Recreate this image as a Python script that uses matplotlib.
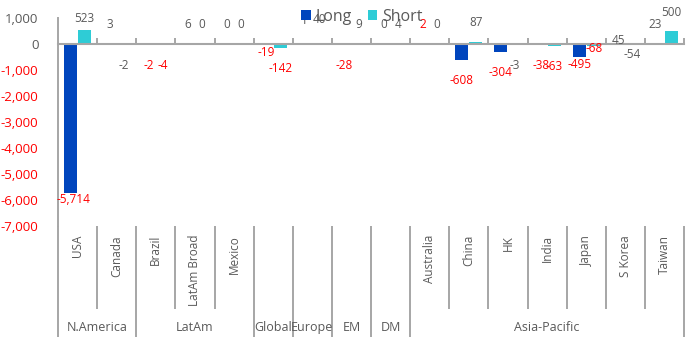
import matplotlib
matplotlib.use("Agg")
import matplotlib.pyplot as plt
import matplotlib.transforms as mtransforms
import numpy as np

plt.rcParams['font.family'] = ['Open Sans', 'DejaVu Sans']

# positions by market, split into long and short books
countries = ["USA", "Canada", "Brazil", "LatAm Broad", "Mexico", "", "", "", "",
             "Australia", "China", "HK", "India", "Japan", "S Korea", "Taiwan"]
regions = ["N.America", "LatAm", "Global", "Europe", "EM", "DM", "Asia-Pacific"]
region_sizes = [2, 3, 1, 1, 1, 1, 7]
long_vals = [-5714, 3, -2, 6, 0, -19, 1, -28, 0, 2, -608, -304, -38, -495, 45, 23]
short_vals = [523, -2, -4, 0, 0, -142, 40, 9, 4, 0, 87, -3, -63, -68, -54, 500]
y_ticks = [1000, 0, -1000, -2000, -3000, -4000, -5000, -6000, -7000]

# which value labels are printed in red
long_red = [True, False, True, False, False, True, False, True, False,
            True, True, True, True, True, False, False]
short_red = [False, False, True, False, False, True, False, False, False,
             False, False, False, True, True, False, False]

LONG_COLOR = "#0045BD"
SHORT_COLOR = "#2ECCD6"
TEXT_GRAY = "#595959"
LINE_GRAY = "#A6A6A6"
RED = "#FF0000"

# hand-moved labels: (dx, distance from bar end) in pixels
label_moves = {
    (0, "long"): (3, 7), (0, "short"): (0, 12),
    (5, "long"): (0, 8),
    (6, "long"): (-1, 23), (6, "short"): (0, 23),
    (12, "long"): (1, 21), (12, "short"): (0, 21),
    (13, "long"): (0, 8), (13, "short"): (1, 3),
    (14, "long"): (0, 2), (14, "short"): (0, 9),
    (15, "long"): (-2, 19),
}

fig = plt.figure(figsize=(6.92, 3.42), dpi=100)
ax = fig.add_axes([58 / 692, 116 / 342, 626 / 692, 208 / 342])

x = np.arange(len(countries))
w = 0.33
off = 0.18
b_long = ax.bar(x - off, long_vals, w, color=LONG_COLOR, label="Long", zorder=2)
b_short = ax.bar(x + off, short_vals, w, color=SHORT_COLOR, label="Short", zorder=2)

ax.set_xlim(-0.5, len(countries) - 0.5)
ax.set_ylim(-7000, 1000)

# value labels
for series, vals, reds, dx0 in [("short", short_vals, short_red, off),
                                ("long", long_vals, long_red, -off)]:
    for i, v in enumerate(vals):
        dx, gap = label_moves.get((i, series), (0, 19 if v >= 0 else 21))
        dy = gap if v >= 0 else -gap
        ax.annotate("{:,}".format(v), xy=(i + dx0, v), xytext=(dx, dy),
                    textcoords="offset pixels", ha="center", va="center",
                    fontsize=8.5, color=RED if reds[i] else TEXT_GRAY, zorder=3)

# y axis
ax.set_yticks(y_ticks)
ax.set_yticklabels(["{:,}".format(t) for t in y_ticks], fontsize=9.5)
for lab, t in zip(ax.get_yticklabels(), y_ticks):
    lab.set_color(RED if t < 0 else TEXT_GRAY)
ax.tick_params(axis="y", length=0, pad=14)

# category axis sits on zero, ticks between categories
for s in ["top", "right"]:
    ax.spines[s].set_visible(False)
ax.spines["bottom"].set_position(("data", 0))
ax.spines["bottom"].set_color(LINE_GRAY)
ax.spines["bottom"].set_linewidth(1.5)
ax.spines["left"].set_color(LINE_GRAY)
ax.spines["left"].set_linewidth(1.4)
ax.set_xticks(np.arange(len(countries)) + 0.5)
ax.set_xticklabels([])
ax.tick_params(axis="x", direction="in", length=4, width=1.4, color=LINE_GRAY)

# two-level category labels under the plot
trans = mtransforms.blended_transform_factory(ax.transData, ax.transAxes)
for i, name in enumerate(countries):
    ax.text(i, -0.043, name, transform=trans, rotation=90, ha="center", va="top",
            fontsize=8.5, color=TEXT_GRAY)

group_edges = np.concatenate([[0], np.cumsum(region_sizes)]) - 0.5
for k in range(len(countries) + 1):
    xb = k - 0.5
    bottom = -0.534 if np.any(np.isclose(group_edges, xb)) else -0.40
    ax.plot([xb, xb], [0, bottom], transform=trans, color=LINE_GRAY, lw=1.4,
            clip_on=False, solid_capstyle="butt")

for name, a, b in zip(regions, group_edges[:-1], group_edges[1:]):
    ax.text((a + b) / 2, -0.486, name, transform=trans, ha="center", va="center",
            fontsize=9, color=TEXT_GRAY)

leg = fig.legend(handles=[b_long, b_short], loc="center", ncol=2,
                 bbox_to_anchor=(362 / 692, 1 - 17 / 342), frameon=False,
                 fontsize=11.5, handlelength=0.6, handleheight=0.6,
                 handletextpad=0.3, columnspacing=1.0)
for t in leg.get_texts():
    t.set_color(TEXT_GRAY)

fig.savefig("out.png", dpi=100)
